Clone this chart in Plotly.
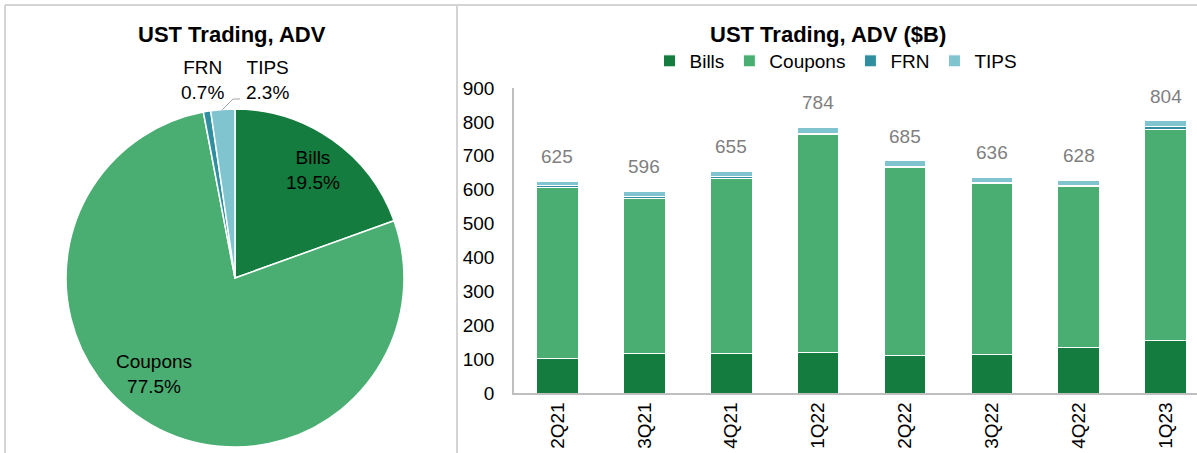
import plotly.graph_objects as go

# ---------------- data ----------------
quarters = ["2Q21", "3Q21", "4Q21", "1Q22", "2Q22", "3Q22", "4Q22", "1Q23"]
bills = [103, 117, 118, 120, 110, 115, 133, 155]
coupons = [503, 458, 516, 642, 554, 502, 475, 624]
frn = [5, 5, 5, 5, 5, 4, 4, 6]
tips = [14, 16, 16, 17, 16, 15, 16, 19]

pie_labels = ["Bills", "Coupons", "FRN", "TIPS"]
pie_shares = [19.5, 77.5, 0.7, 2.3]

y_ticks = [0, 100, 200, 300, 400, 500, 600, 700, 800, 900]

# ---------------- style ----------------
C_BILLS = "#137c3e"
C_COUP = "#4aae72"
C_FRN = "#2f8fa1"
C_TIPS = "#80c4cf"
FONT = "Liberation Sans, Arial, sans-serif"
FS = 19
W, H = 1197, 453


def px(x):
    return x / W


def py(y):
    return 1 - y / H


fig = go.Figure()

# ---------------- pie ----------------
fig.add_trace(go.Pie(
    labels=pie_labels, values=pie_shares, sort=False, direction="clockwise",
    rotation=0, marker=dict(colors=[C_BILLS, C_COUP, C_FRN, C_TIPS],
                            line=dict(color="white", width=1.5)),
    textinfo="none", hoverinfo="label+percent", showlegend=False,
    domain=dict(x=[px(66), px(404)], y=[py(447), py(109)]),
))

# ---------------- stacked bars ----------------
for name, vals, col in [("Bills", bills, C_BILLS), ("Coupons", coupons, C_COUP),
                        ("FRN", frn, C_FRN), ("TIPS", tips, C_TIPS)]:
    fig.add_trace(go.Bar(x=quarters, y=vals, name=name, marker_color=col,
                         marker_line=dict(color="white", width=1),
                         xaxis="x", yaxis="y"))

totals = [b + c + f + t for b, c, f, t in zip(bills, coupons, frn, tips)]

annotations = []
for q, tot in zip(quarters, totals):
    annotations.append(dict(x=q, y=tot, xref="x", yref="y", text=str(tot),
                            showarrow=False, yshift=12, yanchor="bottom",
                            font=dict(size=FS, color="#7f7f7f", family=FONT)))

# pie labels
pie_pos = {"Bills": (313, 170), "Coupons": (154, 374), "FRN": (202, 80), "TIPS": (267, 80)}
for lab, share in zip(pie_labels, pie_shares):
    x0, y0 = pie_pos[lab]
    annotations.append(dict(x=px(x0), y=py(y0), xref="paper", yref="paper",
                            text=f"{lab}<br>{share:.1f}%", showarrow=False,
                            xanchor="center", yanchor="middle",
                            font=dict(size=FS, color="black", family=FONT)))

# titles
annotations.append(dict(x=px(232), y=py(35), xref="paper", yref="paper",
                        text="<b>UST Trading, ADV</b>", showarrow=False,
                        xanchor="center", yanchor="middle",
                        font=dict(size=22, color="black", family=FONT)))
annotations.append(dict(x=px(828), y=py(35), xref="paper", yref="paper",
                        text="<b>UST Trading, ADV ($B)</b>", showarrow=False,
                        xanchor="center", yanchor="middle",
                        font=dict(size=22, color="black", family=FONT)))

shapes = [
    # frame lines
    dict(type="line", xref="paper", yref="paper", x0=px(5), x1=1, y0=py(5), y1=py(5),
         line=dict(color="#d4d4d4", width=2)),
    dict(type="line", xref="paper", yref="paper", x0=px(5), x1=px(5), y0=py(5), y1=0,
         line=dict(color="#d4d4d4", width=2)),
    dict(type="line", xref="paper", yref="paper", x0=px(457), x1=px(457), y0=py(5), y1=0,
         line=dict(color="#d4d4d4", width=2)),
    # TIPS leader line
    dict(type="line", xref="paper", yref="paper", x0=px(222), x1=px(233), y0=py(110), y1=py(99),
         line=dict(color="#a6a6a6", width=1)),
    dict(type="line", xref="paper", yref="paper", x0=px(233), x1=px(240), y0=py(99), y1=py(99),
         line=dict(color="#a6a6a6", width=1)),
]

fig.update_layout(
    width=W, height=H, autosize=False,
    margin=dict(l=0, r=0, t=0, b=0, pad=0),
    paper_bgcolor="white", plot_bgcolor="white",
    font=dict(family=FONT, size=FS, color="black"),
    barmode="stack", bargap=0.52,
    xaxis=dict(domain=[px(514), 1], range=[-0.5, 7.36], showgrid=False,
               showline=True, linecolor="#bfbfbf", linewidth=1.5, ticks="",
               tickangle=-90, tickfont=dict(size=FS, color="black", family=FONT),
               fixedrange=True, automargin=False),
    yaxis=dict(domain=[py(393), py(88)], range=[0, 900], tickvals=y_ticks,
               showgrid=False, showline=True, linecolor="#bfbfbf", linewidth=1.5,
               ticks="", ticklabelstandoff=14, zeroline=False, automargin=False,
               tickfont=dict(size=FS, color="black", family=FONT), fixedrange=True),
    legend=dict(orientation="h", x=px(836), y=py(61), xanchor="center", yanchor="middle",
                font=dict(size=FS, color="black", family=FONT), traceorder="normal",
                itemwidth=30, tracegroupgap=0, bgcolor="rgba(0,0,0,0)"),
    annotations=annotations, shapes=shapes,
)

post = ("document.documentElement.style.margin='0';document.body.style.margin='0';"
        "document.body.style.padding='0';document.body.style.overflow='hidden';")
fig.write_html("out.html", post_script=post, config={"displayModeBar": False})
